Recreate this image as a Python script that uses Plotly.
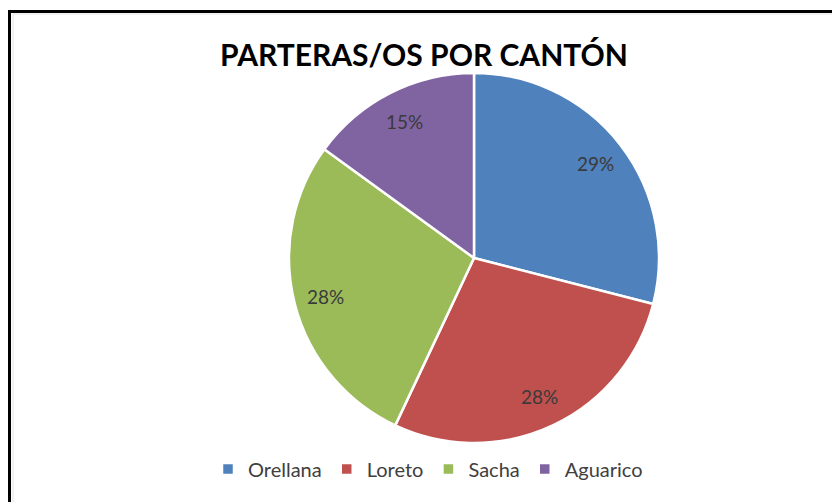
import math
import plotly.graph_objects as go

categories = ["Orellana", "Loreto", "Sacha", "Aguarico"]
values = [29, 28, 28, 15]
colors = ["#4F81BD", "#C0504D", "#9BBB59", "#8064A2"]
title_text = "PARTERAS/OS POR CANTÓN"

W, H = 832, 502
CX, CY, R = 474, 258, 185  # pie centre / radius in pixels
LABEL_R = 0.83             # label distance as fraction of radius

fig = go.Figure(go.Pie(
    labels=categories,
    values=values,
    sort=False,
    direction="clockwise",
    rotation=0,
    marker=dict(colors=colors, line=dict(color="white", width=2.5)),
    textinfo="none",
    domain=dict(x=[(CX - R) / W, (CX + R) / W], y=[(H - CY - R) / H, (H - CY + R) / H]),
    hoverinfo="label+percent",
))

# percentage labels, placed along each slice's mid-angle
total = sum(values)
annotations = []
cum = 0
for v in values:
    mid = (cum + v / 2) / total * 2 * math.pi
    cum += v
    px = CX + LABEL_R * R * math.sin(mid)
    py = CY - LABEL_R * R * math.cos(mid)
    annotations.append(dict(
        x=px / W, y=1 - py / H, xref="paper", yref="paper",
        text=f"{round(v / total * 100)}%", showarrow=False,
        xanchor="center", yanchor="middle",
        font=dict(family="Lato", size=19, color="#3a3a3a"),
    ))

fig.update_layout(
    width=W, height=H,
    margin=dict(l=0, r=0, t=0, b=0),
    paper_bgcolor="white",
    title=dict(text=f"<b>{title_text}</b>", x=424 / W, xanchor="center",
               y=1 - 55 / H, yanchor="middle",
               font=dict(family="Lato", size=30, color="black")),
    legend=dict(orientation="h", x=428 / W, xanchor="center", y=(H - 469) / H,
                yanchor="middle", font=dict(family="Lato", size=20, color="#404040"),
                itemwidth=30, traceorder="normal"),
    annotations=annotations,
    shapes=[
        dict(type="rect", xref="paper", yref="paper",
             x0=9.5 / W, x1=(W + 50) / W, y0=-50 / H, y1=1 - 11.5 / H,
             line=dict(color="black", width=3), layer="above"),
        dict(type="rect", xref="paper", yref="paper",
             x0=13 / W, x1=(W + 50) / W, y0=-50 / H, y1=1 - 14 / H,
             line=dict(color="#e4e4e4", width=1), layer="above"),
    ],
)

fig.write_html("out.html", config={"displayModeBar": False},
               post_script="document.body.style.margin='0px';")
